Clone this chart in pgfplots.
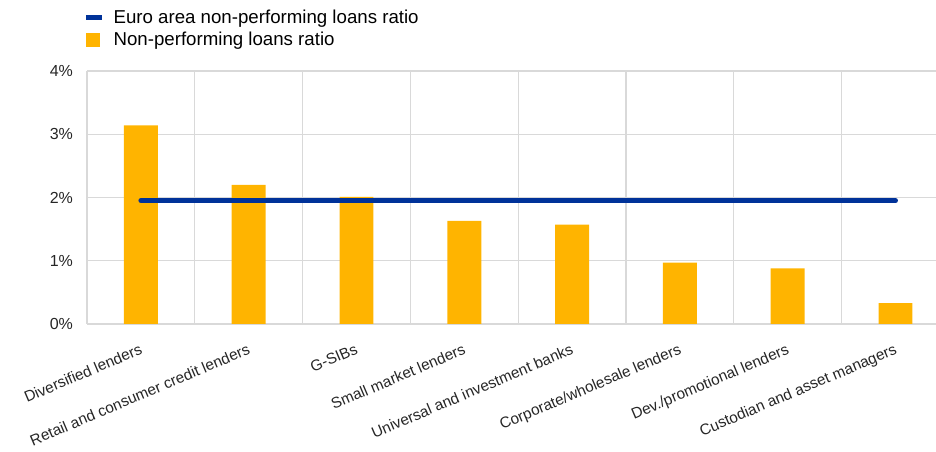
\documentclass[border=0pt]{standalone}
\usepackage{pgfplots}
\pgfplotsset{compat=1.18}
\usepackage{fontspec}
\setmainfont{Liberation Sans}
\definecolor{ecbblue}{HTML}{003299}
\definecolor{ecbyellow}{HTML}{FFB400}
\definecolor{gridgray}{HTML}{D9D9D9}
\begin{document}
\begin{tikzpicture}
\path[use as bounding box] (0,0) rectangle (702pt,339pt);
\begin{axis}[
  at={(65.25pt,96pt)}, anchor=south west,
  scale only axis, width=636.75pt, height=189.75pt,
  xmin=-0.5, xmax=7.376, ymin=0, ymax=4,
  axis line style={draw=none},
  xtick={0,...,7},
  xticklabels={Diversified lenders,Retail and consumer credit lenders,G-SIBs,Small market lenders,Universal and investment banks,Corporate/wholesale lenders,Dev./promotional lenders,Custodian and asset managers},
  minor xtick={-0.5,0.5,1.5,2.5,3.5,4.5,5.5,6.5},
  xminorgrids=true,
  ytick={0,1,2,3,4},
  yticklabels={0\%,1\%,2\%,3\%,4\%},
  ymajorgrids=true,
  grid style={draw=gridgray, line width=0.9pt},
  minor grid style={draw=gridgray, line width=0.9pt},
  major tick length=0pt, minor tick length=0pt,
  tick style={draw=none},
  tick label style={font=\fontsize{12}{14}\selectfont, text=black!85},
  yticklabel style={xshift=-7pt},
  xticklabel style={font=\fontsize{11.5}{14}\selectfont, rotate=23, anchor=north east, inner sep=0pt, xshift=-6.9pt, yshift=-12.5pt},
  clip=false,
  reverse legend,
  legend style={at={(rel axis cs:0,1)}, anchor=south west, draw=none, fill=none,
    xshift=-5.6pt, yshift=14.5pt,
    font=\fontsize{14}{16}\selectfont, row sep=3pt, column sep=5.6pt,
    nodes={inner sep=1pt}},
  legend cell align=left,
]
\addplot[ybar, bar width=0.315, fill=ecbyellow, draw=none,
  legend image code/.code={\fill[ecbyellow] (0pt,-5.25pt) rectangle (10.5pt,5.25pt);}]
  coordinates {(0,3.14) (1,2.20) (2,2.01) (3,1.63) (4,1.57) (5,0.97) (6,0.88) (7,0.33)};
\addlegendentry{Non-performing loans ratio}
\addplot[ecbblue, line width=3.75pt, line cap=round, mark=none,
  legend image code/.code={\draw[ecbblue, line width=3.75pt, line cap=butt] (0pt,0pt) -- (12pt,0pt);}]
  coordinates {(0,1.95) (7,1.95)};
\addlegendentry{Euro area non-performing loans ratio}
\end{axis}
\end{tikzpicture}
\end{document}
